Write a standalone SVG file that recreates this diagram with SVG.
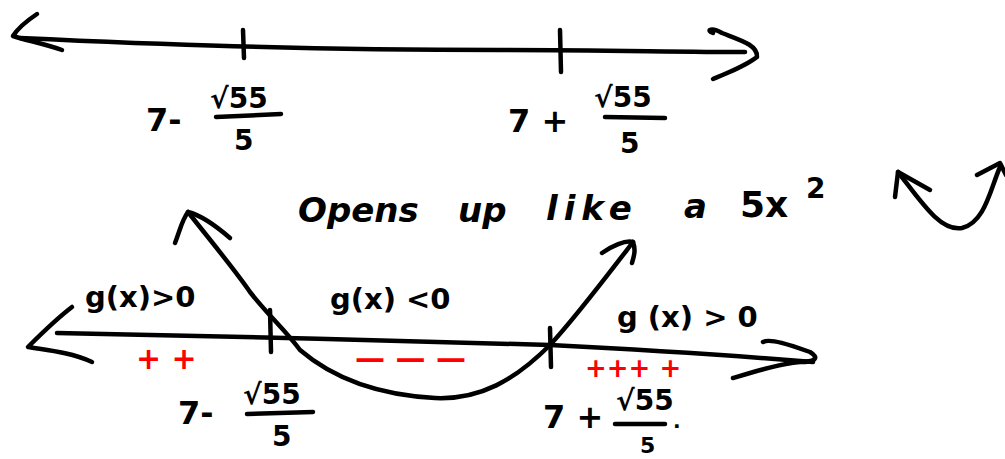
<svg xmlns="http://www.w3.org/2000/svg" width="1005" height="459" viewBox="0 0 1005 459">
<style>
.s{fill:none;stroke:#000;stroke-width:4.5;stroke-linecap:round;stroke-linejoin:round}
.t{font-family:"DejaVu Sans","Liberation Sans",sans-serif;fill:#000;font-weight:bold}
.r{font-family:"DejaVu Sans","Liberation Sans",sans-serif;fill:#f00;font-weight:bold}
.bar{stroke:#000;stroke-width:4.5;stroke-linecap:round}
</style>
<rect width="1005" height="459" fill="#fff"/>
<g id="top-line">
<path class="s" d="M20,38 C150,44 300,50 500,50 C600,50 680,52 745,52"/>
<path class="s" d="M37,14 C28,20 18,28 13,36 C25,40 45,44 62,50"/>
<path class="s" d="M713,33 C705,30 712,27 722,33 C740,40 758,45 757,57 C745,66 730,72 713,79"/>
<path class="s" d="M243,30 L244,58"/>
<path class="s" d="M560,30 L561,72"/>
</g>
<g id="top-label-1">
<text class="t" x="146" y="131" font-size="32">7-</text>
<text class="t" x="210" y="108" font-size="28">√55</text>
<line class="bar" x1="216" y1="117" x2="281" y2="114"/>
<text class="t" x="234" y="150" font-size="28">5</text>
</g>
<g id="top-label-2">
<text class="t" x="508" y="132" font-size="32">7 +</text>
<text class="t" x="594" y="107" font-size="28">√55</text>
<line class="bar" x1="605" y1="117" x2="665" y2="118"/>
<text class="t" x="620" y="153" font-size="28">5</text>
</g>
<g id="caption">
<text class="t" x="298" y="222" font-size="34" font-style="italic">Opens</text>
<text class="t" x="458" y="222" font-size="34" font-style="italic">up</text>
<text class="t" x="546" y="220" font-size="34" font-style="italic" letter-spacing="6">like</text>
<text class="t" x="684" y="218" font-size="34" font-style="italic">a</text>
<text class="t" x="740" y="217" font-size="36">5x</text>
<text class="t" x="806" y="198" font-size="28">2</text>
</g>
<g id="mini-parabola">
<path class="s" d="M895,197 L898,172 L930,190"/>
<path class="s" d="M898,172 C920,200 940,232 962,228 C985,222 990,190 1000,167"/>
<path class="s" d="M977,175 L1000,163 L1006,175"/>
</g>
<g id="bottom-line">
<path class="s" d="M57,333 C200,336 400,340 550,345 C650,350 740,356 813,362"/>
<path class="s" d="M72,307 C55,320 40,335 28,347 C45,350 70,352 92,362"/>
<path class="s" d="M763,342 C770,338 790,345 810,352 C820,358 815,362 800,362 C780,364 760,370 733,378"/>
<path class="s" d="M270,310 L271,352"/>
<path class="s" d="M550,328 L551,367"/>
</g>
<g id="parabola">
<path class="s" d="M188,212 C210,240 235,270 250,292 C268,315 285,330 300,350 C335,380 380,395 435,398 C480,400 515,380 550,345 C575,318 600,285 633,242"/>
<path class="s" d="M175,243 C180,230 182,220 188,212 C200,215 215,225 230,238"/>
<path class="s" d="M602,253 C612,246 625,240 633,242 C636,250 634,256 632,263"/>
</g>
<g id="signs">
<text class="t" x="85" y="307" font-size="29">g(x)&gt;0</text>
<text class="t" x="330" y="309" font-size="29">g(x) &lt;0</text>
<text class="t" x="617" y="327" font-size="29">g (x) &gt; 0</text>
<text class="r" x="136" y="369" font-size="30">+ +</text>
<text class="r" x="355" y="368" font-size="30">— — —</text>
<text class="r" x="585" y="377" font-size="26">+++ +</text>
</g>
<g id="bottom-label-1">
<text class="t" x="178" y="424" font-size="32">7-</text>
<text class="t" x="243" y="404" font-size="28">√55</text>
<line class="bar" x1="247" y1="414" x2="313" y2="412"/>
<text class="t" x="272" y="446" font-size="28">5</text>
</g>
<g id="bottom-label-2">
<text class="t" x="543" y="428" font-size="32">7 +</text>
<text class="t" x="616" y="410" font-size="28">√55</text>
<line class="bar" x1="615" y1="424" x2="665" y2="424"/>
<text class="t" x="673" y="428" font-size="20">.</text>
<text class="t" x="640" y="453" font-size="22">5</text>
</g>
</svg>
